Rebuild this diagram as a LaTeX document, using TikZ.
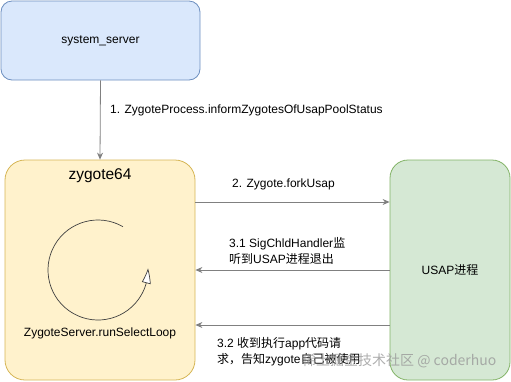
\documentclass[tikz,border=0pt]{standalone}
\usepackage{fontspec}
\setmainfont{Liberation Sans}
\newfontfamily\cjk{Noto Sans CJK SC}
\usetikzlibrary{arrows.meta,bending,positioning,calc}
\definecolor{SysFill}{HTML}{DAE8FC}
\definecolor{SysLine}{HTML}{6C8EBF}
\definecolor{ZygFill}{HTML}{FFF2CC}
\definecolor{ZygLine}{HTML}{D6B656}
\definecolor{UsapFill}{HTML}{D5E8D4}
\definecolor{UsapLine}{HTML}{82B366}
\definecolor{ArrGray}{HTML}{808080}
\tikzset{
  procbox/.style={draw, line width=0.8pt, rounded corners=#1, inner sep=0pt},
  msg/.style={draw=ArrGray, line width=0.8pt, -{Stealth[length=7pt,width=6pt]}},
  lbl/.style={font=\fontsize{12}{16}\selectfont, align=left, inner sep=0pt}
}

\begin{document}
\begin{tikzpicture}[x=1pt,y=-1pt]
    \useasboundingbox (0,0) rectangle (511,381);
    % processes
    \node[procbox=11pt, fill=SysFill, draw=SysLine,
          minimum width=199pt, minimum height=79pt]
          (sys) at (100.5,40.5) {\fontsize{12}{14}\selectfont system\_server};
    \node[procbox=20pt, fill=ZygFill, draw=ZygLine,
          minimum width=190pt, minimum height=220pt]
          (zyg) at (100,270) {};
    \node[procbox=18pt, fill=UsapFill, draw=UsapLine,
          minimum width=120pt, minimum height=220pt]
          (usap) at (450,270) {\fontsize{12}{14}\selectfont USAP{\cjk 进程}};
    \node[font=\fontsize{15.5}{18}\selectfont] (zygtitle) at (100,176) {zygote64};
    \node[font=\fontsize{12}{14}\selectfont] (loopname) at (100,333) {ZygoteServer.runSelectLoop};

    % select loop
    \coordinate (loopc) at (98,270);
    \draw[draw=black!75, line width=0.7pt,
          -{Triangle[open, fill=white, length=15pt, width=9pt, bend]}]
      (loopc) ++(-60:50) arc[start angle=-60, end angle=-362, radius=50];

    % messages
    \draw[msg] (sys.south) -- (zyg.north);
    \node[lbl, anchor=west] (m1) at (110,110) {1. ZygoteProcess.informZygotesOfUsapPoolStatus};
    \draw[msg] (zyg.east |- 0,202) -- (usap.west |- 0,202);
    \node[lbl, anchor=west] (m2) at (232,184) {2. Zygote.forkUsap};
    \draw[msg] (usap.west |- 0,270) -- (zyg.east |- 0,270);
    \node[lbl, anchor=west] (m31) at (229,251)
      {3.1 SigChldHandler{\cjk 监}\\{\cjk 听到}USAP{\cjk 进程退出}};
    \draw[msg] (usap.west |- 0,325) -- (zyg.east |- 0,325);
    \node[lbl, anchor=west] (m32) at (217,352)
      {3.2 {\cjk 收到执行}app{\cjk 代码请}\\{\cjk 求，告知}zygote{\cjk 自己被使用}};

    % watermark
    \node[font=\cjk\fontsize{14}{16}\selectfont, text=black!40, opacity=0.8,
          anchor=west, inner sep=0pt] (mark) at (302,361) {稀土掘金技术社区 @ coderhuo};
\end{tikzpicture}
\end{document}
